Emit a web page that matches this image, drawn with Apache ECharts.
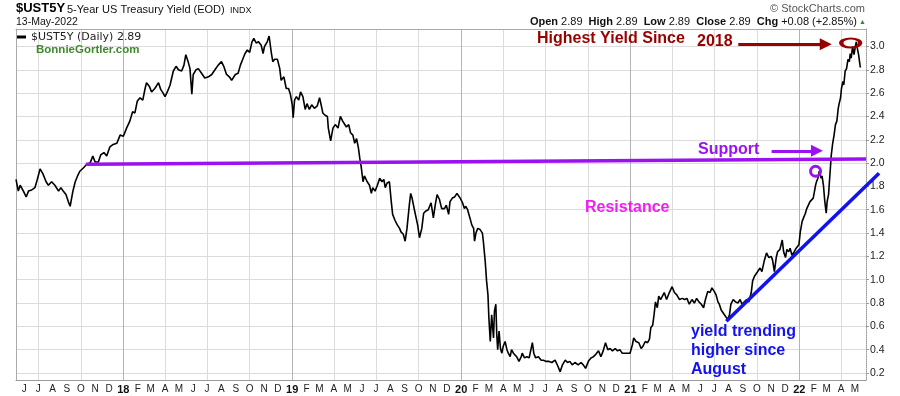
<!DOCTYPE html>
<html><head><meta charset="utf-8">
<script src="https://cdn.jsdelivr.net/npm/echarts@6/dist/echarts.min.js"></script>
<style>html,body{margin:0;padding:0;background:#fff}#c{width:900px;height:396px}</style>
</head><body><div id="c"></div>
<script>
// ---- data ----
const dates = [
'2017-05-14','2017-05-19','2017-05-23','2017-05-30','2017-06-05','2017-06-10','2017-06-17','2017-06-24','2017-06-29','2017-07-05','2017-07-11','2017-07-18','2017-07-23','2017-07-30','2017-08-06','2017-08-14','2017-08-19','2017-08-24','2017-08-30','2017-09-04','2017-09-08','2017-09-14','2017-09-19','2017-09-24','2017-09-29','2017-10-07','2017-10-14','2017-10-21','2017-10-27','2017-11-01','2017-11-08','2017-11-13','2017-11-20','2017-11-26','2017-12-03','2017-12-10','2017-12-18','2017-12-25',
'2018-01-01','2018-01-08','2018-01-15','2018-01-21','2018-01-26','2018-01-31','2018-02-06','2018-02-12','2018-02-17','2018-02-20','2018-02-26','2018-03-03','2018-03-10','2018-03-18','2018-03-23','2018-03-28','2018-04-01','2018-04-06','2018-04-12','2018-04-19','2018-04-25','2018-04-30','2018-05-07','2018-05-12','2018-05-16','2018-05-21','2018-05-25','2018-05-29','2018-06-01','2018-06-07','2018-06-12','2018-06-19','2018-06-26','2018-07-04','2018-07-11','2018-07-18','2018-07-25','2018-08-01','2018-08-06','2018-08-12','2018-08-18','2018-08-23','2018-08-31','2018-09-06','2018-09-11','2018-09-16','2018-09-21','2018-09-26','2018-10-01','2018-10-06','2018-10-10','2018-10-15','2018-10-20','2018-10-26','2018-10-30','2018-11-02','2018-11-08','2018-11-12','2018-11-17','2018-11-20','2018-11-24','2018-11-30','2018-12-05','2018-12-08','2018-12-14','2018-12-19','2018-12-24','2018-12-28',
'2019-01-01','2019-01-03','2019-01-06','2019-01-10','2019-01-15','2019-01-19','2019-01-24','2019-01-29','2019-02-02','2019-02-07','2019-02-12','2019-02-18','2019-02-24','2019-03-01','2019-03-05','2019-03-08','2019-03-13','2019-03-18','2019-03-20','2019-03-25','2019-03-30','2019-04-04','2019-04-10','2019-04-15','2019-04-20','2019-04-24','2019-04-28','2019-05-03','2019-05-07','2019-05-12','2019-05-16','2019-05-20','2019-05-24','2019-05-27','2019-05-30','2019-06-03','2019-06-06','2019-06-12','2019-06-17','2019-06-21','2019-06-24','2019-06-29','2019-07-04','2019-07-09','2019-07-14','2019-07-18','2019-07-21','2019-07-25','2019-07-30','2019-08-03','2019-08-06','2019-08-11','2019-08-16','2019-08-21','2019-08-24','2019-08-29','2019-09-02','2019-09-06','2019-09-11','2019-09-14','2019-09-17','2019-09-22','2019-09-26','2019-09-29','2019-10-03','2019-10-08','2019-10-12','2019-10-17','2019-10-22','2019-10-28','2019-11-02','2019-11-06','2019-11-10','2019-11-15','2019-11-20','2019-11-26','2019-11-30','2019-12-05','2019-12-08','2019-12-13','2019-12-18','2019-12-23','2019-12-26','2019-12-30',
'2020-01-04','2020-01-08','2020-01-11','2020-01-15','2020-01-20','2020-01-24','2020-01-28','2020-01-30','2020-02-02','2020-02-06','2020-02-11','2020-02-16','2020-02-18','2020-02-22','2020-02-25','2020-02-28','2020-03-01','2020-03-04','2020-03-07','2020-03-11','2020-03-13','2020-03-16','2020-03-18','2020-03-20','2020-03-23','2020-03-26','2020-03-29','2020-04-01','2020-04-05','2020-04-09','2020-04-12','2020-04-16','2020-04-19','2020-04-23','2020-04-27','2020-04-30','2020-05-05','2020-05-10','2020-05-12','2020-05-17','2020-05-22','2020-05-27','2020-05-31','2020-06-03','2020-06-06','2020-06-10','2020-06-16','2020-06-22','2020-06-27','2020-07-02','2020-07-08','2020-07-15','2020-07-22','2020-07-28','2020-08-02','2020-08-07','2020-08-13','2020-08-18','2020-08-23','2020-08-28','2020-09-03','2020-09-10','2020-09-16','2020-09-21','2020-09-26','2020-10-02','2020-10-08','2020-10-13','2020-10-18','2020-10-24','2020-10-29','2020-11-03','2020-11-08','2020-11-13','2020-11-18','2020-11-23','2020-11-29','2020-12-04','2020-12-09','2020-12-14','2020-12-20','2020-12-26','2020-12-31',
'2021-01-05','2021-01-08','2021-01-13','2021-01-19','2021-01-24','2021-01-28','2021-02-02','2021-02-07','2021-02-11','2021-02-14','2021-02-18','2021-02-21','2021-02-24','2021-02-28','2021-03-03','2021-03-07','2021-03-15','2021-03-20','2021-03-26','2021-04-01','2021-04-06','2021-04-11','2021-04-17','2021-04-23','2021-04-28','2021-05-03','2021-05-08','2021-05-14','2021-05-19','2021-05-24','2021-05-29','2021-06-03','2021-06-08','2021-06-12','2021-06-17','2021-06-22','2021-06-26','2021-07-01','2021-07-05','2021-07-09','2021-07-12','2021-07-16','2021-07-19','2021-07-23','2021-07-27','2021-07-30','2021-08-03','2021-08-06','2021-08-11','2021-08-16','2021-08-21','2021-08-26','2021-08-30','2021-09-04','2021-09-09','2021-09-14','2021-09-19','2021-09-22','2021-09-26','2021-09-29','2021-10-03','2021-10-08','2021-10-12','2021-10-17','2021-10-22','2021-10-27','2021-11-01','2021-11-04','2021-11-08','2021-11-12','2021-11-15','2021-11-20','2021-11-25','2021-11-28','2021-12-02','2021-12-05','2021-12-09','2021-12-12','2021-12-16','2021-12-21','2021-12-25','2021-12-31',
'2022-01-03','2022-01-07','2022-01-10','2022-01-14','2022-01-17','2022-01-21','2022-01-24','2022-01-28','2022-01-31','2022-02-05','2022-02-07','2022-02-10','2022-02-13','2022-02-17','2022-02-19','2022-02-22','2022-02-25','2022-02-28','2022-03-02','2022-03-05','2022-03-08','2022-03-11','2022-03-14','2022-03-17','2022-03-20','2022-03-23','2022-03-26','2022-03-28','2022-03-31','2022-04-02','2022-04-05','2022-04-07','2022-04-10','2022-04-13','2022-04-16','2022-04-19','2022-04-21','2022-04-23','2022-04-26','2022-04-29','2022-05-02','2022-05-04','2022-05-06','2022-05-09','2022-05-12','2022-05-13'
];
const yields = [
1.86,1.76,1.81,1.76,1.71,1.76,1.77,1.79,1.86,1.95,1.91,1.84,1.81,1.84,1.81,1.76,1.79,1.76,1.73,1.67,1.63,1.76,1.84,1.89,1.93,1.96,1.99,2.00,2.06,2.01,2.01,2.07,2.09,2.06,2.14,2.16,2.17,2.24,
2.23,2.30,2.36,2.44,2.43,2.53,2.56,2.54,2.64,2.69,2.66,2.61,2.64,2.69,2.63,2.60,2.57,2.61,2.67,2.79,2.83,2.80,2.79,2.84,2.93,2.87,2.81,2.59,2.76,2.80,2.81,2.77,2.73,2.74,2.76,2.80,2.84,2.87,2.83,2.76,2.74,2.71,2.76,2.77,2.84,2.89,2.94,2.97,2.95,3.04,3.07,3.03,3.04,3.01,2.94,3.00,3.04,3.09,2.94,2.87,2.89,2.89,2.81,2.71,2.74,2.64,2.64,2.59,
2.50,2.39,2.54,2.57,2.54,2.61,2.57,2.46,2.51,2.46,2.50,2.47,2.49,2.56,2.49,2.43,2.41,2.40,2.30,2.19,2.30,2.33,2.30,2.40,2.36,2.37,2.31,2.33,2.26,2.24,2.17,2.21,2.13,2.04,1.97,1.84,1.89,1.84,1.81,1.74,1.79,1.76,1.81,1.87,1.84,1.86,1.79,1.83,1.84,1.67,1.56,1.51,1.47,1.44,1.41,1.39,1.33,1.44,1.64,1.74,1.70,1.60,1.59,1.47,1.36,1.44,1.57,1.59,1.60,1.66,1.53,1.64,1.73,1.69,1.61,1.61,1.64,1.56,1.67,1.70,1.71,1.74,1.73,1.70,
1.66,1.61,1.63,1.60,1.53,1.47,1.44,1.33,1.40,1.44,1.43,1.40,1.33,1.16,0.99,0.87,0.67,0.47,0.70,0.50,0.73,0.79,0.53,0.40,0.56,0.41,0.37,0.43,0.47,0.40,0.37,0.34,0.40,0.37,0.37,0.34,0.30,0.34,0.37,0.33,0.34,0.33,0.34,0.46,0.37,0.33,0.34,0.31,0.31,0.30,0.30,0.29,0.31,0.26,0.21,0.27,0.31,0.29,0.30,0.27,0.29,0.27,0.29,0.27,0.24,0.30,0.33,0.34,0.36,0.39,0.34,0.39,0.46,0.40,0.41,0.39,0.41,0.39,0.40,0.37,0.37,0.37,0.37,
0.44,0.50,0.47,0.46,0.41,0.43,0.47,0.46,0.49,0.59,0.61,0.70,0.81,0.76,0.86,0.83,0.89,0.83,0.89,0.94,0.89,0.87,0.83,0.84,0.83,0.84,0.79,0.83,0.80,0.84,0.81,0.79,0.76,0.83,0.90,0.89,0.93,0.90,0.87,0.81,0.79,0.74,0.74,0.70,0.71,0.66,0.70,0.79,0.83,0.81,0.80,0.83,0.79,0.81,0.83,0.81,0.89,0.99,1.03,1.04,1.07,1.10,1.07,1.16,1.23,1.19,1.20,1.17,1.07,1.19,1.24,1.26,1.34,1.24,1.19,1.26,1.24,1.27,1.21,1.24,1.27,1.30,
1.41,1.50,1.53,1.57,1.61,1.60,1.67,1.66,1.70,1.81,1.84,1.87,1.93,1.87,1.89,1.81,1.67,1.57,1.67,1.73,1.90,2.07,2.17,2.24,2.33,2.36,2.47,2.51,2.56,2.64,2.70,2.67,2.79,2.81,2.89,2.87,2.94,2.90,3.00,2.93,3.00,3.04,2.99,2.93,2.84,2.82
];
const seriesName = '$UST5Y (Daily) 2.89';
const yTicks = [0.2,0.4,0.6,0.8,1.0,1.2,1.4,1.6,1.8,2.0,2.2,2.4,2.6,2.8,3.0];
const monthLetters = ['J','F','M','A','M','J','J','A','S','O','N','D'];
const xMin = '2017-05-14', xMax = '2022-05-25';
const xMaxOverlay = '2022-06-24'; // overlay grid reaches 14px past the axis, where the trend line ends
const yMin = 0.14, yMax = 3.15;
// annotations, in data space
const supportLine = [['2017-10-12', 1.99], ['2022-05-25', 2.035]];
const trendLine = [['2021-07-27', 0.643], ['2022-06-22', 1.914]];
const redArrow = [['2021-08-22', 3.02], ['2022-02-27', 3.02]];
const purpleArrow = [['2021-11-02', 2.105], ['2022-02-08', 2.105]];
const highMark = ['2022-04-22', 3.03];
const dipMark = ['2022-02-05', 1.93];

// ---- chart ----
const RED = '#990000', PURPLE = '#9a12f0', BLUE = '#1212ee', MAGENTA = '#f01ef0', GREEN = '#3f8a2f';
const F = '"Liberation Sans", Arial, Helvetica, sans-serif';
const ts = s => { const p = s.split('-').map(Number); return new Date(p[0], p[1] - 1, p[2]).getTime(); };
const pt = a => [ts(a[0]), a[1]];
const monthTicks = [], quarterTicks = [];
for (let y = 2017; y <= 2022; y++) for (let m = 0; m < 12; m++) {
  const t = new Date(y, m, 1).getTime();
  if (t < ts(xMin) || t > ts(xMax)) continue;
  monthTicks.push(t);
  if (m % 3 === 0) quarterTicks.push(t);
}
const xFmt = v => {
  const d = new Date(v), m = d.getMonth();
  return m === 0 ? '{y|' + String(d.getFullYear()).slice(2) + '}' : monthLetters[m];
};
const txt = (x, y, text, size, fill, weight, align) => ({
  type: 'text', x: x, y: y, silent: true, z: 50,
  style: { text: text, font: (weight || 'normal') + ' ' + size + 'px ' + F, fill: fill, align: align || 'left', verticalAlign: 'middle' }
});
const hiddenAxis = (gi, min, max) => ({
  type: 'value', gridIndex: gi, min: min, max: max, show: false,
  axisLine: { show: false, onZero: false }, axisTick: { show: false }, axisLabel: { show: false }, splitLine: { show: false }
});

const chart = echarts.init(document.getElementById('c'), null, { renderer: 'canvas' });
chart.setOption({
  animation: false,
  backgroundColor: '#ffffff',
  grid: [
    { left: 16, right: 34, top: 29, bottom: 16 },
    { left: 16, right: 20, top: 29, bottom: 16 }
  ],
  legend: {
    data: [seriesName], left: 17, top: 31.5, padding: 0, itemGap: 0,
    icon: 'rect', itemWidth: 9, itemHeight: 3, selectedMode: false,
    textStyle: { fontFamily: 'DejaVu Sans', fontSize: 11, color: '#222' }
  },
  xAxis: [
    {
      type: 'value', gridIndex: 0, position: 'bottom', min: ts(xMin), max: ts(xMax),
      axisLine: { show: true, onZero: false, lineStyle: { color: '#999' } },
      axisTick: { show: false, customValues: quarterTicks },
      axisLabel: {
        customValues: monthTicks, formatter: xFmt, fontFamily: F, fontSize: 10, color: '#222', margin: 4,
        rich: { y: { fontFamily: F, fontWeight: 'bold', fontSize: 11, color: '#111' } }
      },
      splitLine: { show: true, lineStyle: { color: ['#dcdcdc', '#dcdcdc', '#b4b4b4', '#dcdcdc'], width: 1 } }
    },
    {
      type: 'value', gridIndex: 0, position: 'top', min: 0, max: 1,
      axisLine: { show: true, onZero: false, lineStyle: { color: '#aaa' } },
      axisTick: { show: false }, axisLabel: { show: false }, splitLine: { show: false }
    },
    hiddenAxis(1, ts(xMin), ts(xMaxOverlay))
  ],
  yAxis: [
    {
      type: 'value', gridIndex: 0, position: 'right', min: yMin, max: yMax,
      axisLine: { show: true, onZero: false, lineStyle: { color: '#999', type: 'dotted' } },
      axisTick: { show: true, length: 3, customValues: yTicks, lineStyle: { color: '#999' } },
      axisLabel: { customValues: yTicks, formatter: v => v.toFixed(1), fontFamily: F, fontSize: 10.5, color: '#222', margin: 4 },
      splitLine: { show: true, lineStyle: { color: '#dcdcdc', width: 1 } }
    },
    {
      type: 'value', gridIndex: 0, position: 'left', min: 0, max: 1,
      axisLine: { show: true, onZero: false, lineStyle: { color: '#aaa' } },
      axisTick: { show: false }, axisLabel: { show: false }, splitLine: { show: false }
    },
    hiddenAxis(1, yMin, yMax)
  ],
  series: [
    {
      name: seriesName, type: 'line', z: 2, showSymbol: false, symbol: 'none', color: '#000',
      xAxisIndex: 0, yAxisIndex: 0,
      itemStyle: { color: '#000' }, lineStyle: { color: '#000', width: 1.6 },
      data: dates.map((d, i) => [ts(d), yields[i]])
    },
    {
      name: 'support', type: 'line', z: 3, symbol: 'none', silent: true, xAxisIndex: 0, yAxisIndex: 0,
      lineStyle: { color: PURPLE, width: 3.5 }, data: supportLine.map(pt),
      markLine: {
        silent: true, animation: false, symbol: ['none', 'triangle'], symbolSize: 12,
        label: { show: false }, emphasis: { disabled: true },
        data: [
          [{ coord: pt(redArrow[0]), lineStyle: { color: RED, width: 3, type: 'solid' } }, { coord: pt(redArrow[1]) }],
          [{ coord: pt(purpleArrow[0]), lineStyle: { color: PURPLE, width: 3, type: 'solid' } }, { coord: pt(purpleArrow[1]) }]
        ]
      },
      markPoint: {
        silent: true, animation: false, label: { show: false },
        data: [
          { coord: pt(highMark), symbol: 'path://M0 5A10 5 0 1 1 20 5A10 5 0 1 1 0 5Z', symbolSize: [19, 9],
            itemStyle: { color: 'rgba(0,0,0,0)', borderColor: RED, borderWidth: 3 } },
          { coord: pt(dipMark), symbol: 'circle', symbolSize: 10,
            itemStyle: { color: 'rgba(0,0,0,0)', borderColor: PURPLE, borderWidth: 3 } }
        ]
      }
    },
    {
      name: 'trend', type: 'line', z: 3, symbol: 'none', silent: true, xAxisIndex: 2, yAxisIndex: 2,
      lineStyle: { color: BLUE, width: 3.5 }, data: trendLine.map(pt)
    }
  ],
  graphic: [
    txt(16, 8.8, '$UST5Y', 13, '#000', 'bold'),
    txt(67, 9.5, '5-Year US Treasury Yield (EOD)', 11, '#111'),
    txt(230, 10.2, 'INDX', 9, '#111'),
    txt(16, 22.3, '13-May-2022', 10.5, '#111'),
    txt(865, 8.9, '\u00A9 StockCharts.com', 11, '#555', 'normal', 'right'),
    {
      type: 'text', x: 857, y: 21.9, silent: true, z: 50,
      style: {
        text: '{b|Open} 2.89  {b|High} 2.89  {b|Low} 2.89  {b|Close} 2.89  {b|Chg} +0.08 (+2.85%)',
        font: '11px ' + F, fill: '#111', align: 'right', verticalAlign: 'middle',
        rich: { b: { fontWeight: 'bold', fontSize: 11, fontFamily: F, fill: '#111' } }
      }
    },
    txt(862.5, 22.5, '\u25B2', 7, '#2e8b2e', 'normal', 'center'),
    txt(36, 50, 'BonnieGortler.com', 11.5, GREEN, 'bold'),
    txt(537, 38.4, 'Highest Yield Since', 16, RED, 'bold'),
    txt(697, 41.7, '2018', 16, RED, 'bold'),
    txt(698, 149.4, 'Support', 16, PURPLE, 'bold'),
    txt(585, 207.4, 'Resistance', 16, MAGENTA, 'bold'),
    txt(691, 331.1, 'yield trending', 16, BLUE, 'bold'),
    txt(691, 350.4, 'higher since', 16, BLUE, 'bold'),
    txt(691, 369.6, 'August', 16, BLUE, 'bold')
  ]
});
</script>
</body></html>
